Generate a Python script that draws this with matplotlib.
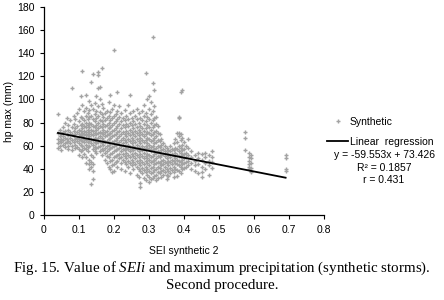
import matplotlib
matplotlib.use('Agg')
import matplotlib.pyplot as plt
from matplotlib.lines import Line2D

plt.rcParams['font.family'] = ['Liberation Sans', 'DejaVu Sans']
plt.rcParams['mathtext.fontset'] = 'custom'
plt.rcParams['mathtext.rm'] = 'Liberation Serif'
plt.rcParams['mathtext.it'] = 'Liberation Serif:italic'

# SEI synthetic 2 values (columns) and hp max (mm)
sei_columns = [0.040, 0.045, 0.050, 0.055, 0.060, 0.065, 0.070, 0.075, 0.080, 0.085,
               0.090, 0.095, 0.100, 0.105, 0.110, 0.115, 0.120, 0.125, 0.130, 0.135,
               0.140, 0.145, 0.150, 0.155, 0.160, 0.165, 0.170, 0.175, 0.180, 0.185,
               0.190, 0.195, 0.200, 0.205, 0.210, 0.215, 0.220, 0.225, 0.230, 0.235,
               0.240, 0.245, 0.250, 0.255, 0.260, 0.265, 0.270, 0.275, 0.280, 0.285,
               0.290, 0.295, 0.300, 0.305, 0.310, 0.315, 0.320, 0.325, 0.330, 0.335,
               0.340, 0.345, 0.350, 0.355, 0.360, 0.365, 0.370, 0.375, 0.380, 0.385,
               0.390, 0.395, 0.400, 0.405, 0.410, 0.420, 0.430, 0.440, 0.450, 0.460,
               0.470, 0.480, 0.573, 0.585, 0.590, 0.690]
hp_columns = [
    [87, 71, 66, 62, 58],
    [74, 68, 64, 60],
    [70, 66, 63, 56],
    [76, 72, 68, 65, 61],
    [80, 73, 67, 62, 59],
    [84, 70, 66, 63],
    [78, 74, 69, 64, 60, 57],
    [82, 72, 67, 62],
    [110, 76, 70, 65, 60, 56],
    [86, 79, 73, 68, 63],
    [83, 75, 70, 66, 61, 58],
    [88, 77, 72, 67, 64, 59],
    [92, 81, 74, 70, 66, 62, 57, 52],
    [103, 85, 78, 73, 69, 65, 61, 55],
    [125, 95, 84, 79, 75, 71, 68, 64, 60, 56, 50],
    [90, 82, 77, 73, 70, 66, 63, 58, 53],
    [104, 93, 86, 80, 76, 72, 69, 65, 61, 57, 50, 45],
    [88, 83, 78, 74, 70, 67, 63, 59, 55],
    [99, 91, 85, 80, 76, 72, 68, 64, 60, 48, 44, 40],
    [115, 95, 86, 79, 74, 70, 66, 62, 52, 46, 42, 27],
    [122, 92, 83, 77, 73, 69, 65, 61, 57, 50, 44, 38, 31],
    [97, 87, 81, 76, 71, 67, 63, 59, 55],
    [103, 90, 84, 78, 74, 70, 66, 62, 58, 54],
    [124, 121, 110, 94, 86, 80, 75, 71, 67, 63, 59],
    [111, 100, 89, 82, 77, 72, 68, 64, 60, 55],
    [127, 96, 87, 81, 76, 71, 67, 62, 57, 52],
    [93, 85, 79, 74, 70, 65, 61, 56],
    [88, 82, 77, 72, 68, 63, 58, 54, 48],
    [90, 84, 78, 73, 69, 64, 60, 55, 51, 45],
    [98, 86, 80, 75, 70, 66, 61, 57, 50, 42],
    [104, 89, 82, 76, 71, 67, 62, 58, 53, 47, 40],
    [92, 84, 78, 73, 68, 63, 59, 54, 48, 43, 37],
    [143, 95, 86, 80, 74, 69, 64, 60, 55, 50, 44, 38],
    [87, 81, 75, 70, 65, 61, 56, 51, 46],
    [106, 90, 83, 77, 72, 67, 62, 57, 52, 47, 42],
    [94, 85, 79, 73, 68, 63, 58, 53, 49],
    [88, 81, 75, 70, 65, 60, 55, 50, 45, 40],
    [84, 78, 72, 67, 62, 57, 53, 48],
    [91, 82, 76, 70, 65, 60, 56, 51, 46, 38],
    [86, 79, 73, 68, 63, 58, 54, 49, 44],
    [95, 83, 77, 71, 66, 61, 57, 52, 47, 42],
    [104, 88, 80, 74, 69, 64, 59, 55, 50, 45, 36],
    [84, 78, 72, 67, 62, 57, 53, 48, 43],
    [90, 81, 75, 70, 65, 60, 56, 51, 46, 40],
    [86, 79, 73, 68, 63, 58, 54, 49, 44],
    [92, 83, 76, 71, 66, 61, 57, 52, 47, 42, 35],
    [88, 80, 74, 69, 64, 59, 55, 50, 45, 40, 33],
    [84, 77, 72, 67, 62, 57, 53, 48, 43, 38, 28, 24],
    [90, 82, 75, 70, 65, 60, 56, 51, 46, 41, 36],
    [95, 86, 79, 73, 68, 63, 58, 54, 49, 44, 39, 32],
    [123, 88, 81, 75, 70, 65, 60, 56, 51, 47, 42, 37, 30],
    [100, 85, 78, 72, 67, 62, 58, 53, 49, 45, 40, 35],
    [103, 92, 83, 76, 71, 66, 61, 57, 52, 48, 43, 38, 33, 29],
    [98, 87, 80, 74, 69, 64, 59, 55, 50, 46, 41, 36, 31],
    [154, 114, 90, 82, 76, 70, 65, 60, 56, 51, 47, 42, 37, 32],
    [108, 94, 84, 78, 72, 67, 62, 57, 53, 48, 44, 39, 34],
    [85, 79, 73, 68, 63, 58, 54, 49, 45, 40, 35, 30],
    [77, 71, 65, 60, 55, 51, 46, 42, 37, 32],
    [70, 64, 59, 54, 50, 45, 41, 36],
    [66, 61, 56, 52, 47, 43, 38, 33],
    [62, 57, 53, 48, 44, 39, 35],
    [60, 55, 51, 46, 42, 37],
    [58, 54, 49, 45, 40, 35, 31],
    [56, 52, 47, 43, 38, 34],
    [60, 55, 50, 46, 41, 36],
    [57, 53, 48, 44, 39],
    [62, 56, 51, 47, 42, 37, 33],
    [66, 58, 54, 49, 45, 40],
    [71, 63, 57, 52, 48, 44, 39, 34],
    [85, 84, 71, 68, 60, 55, 51, 47, 43, 38],
    [106, 70, 65, 58, 54, 50, 46, 42, 36],
    [108, 67, 61, 56, 52, 48, 44, 40],
    [63, 57, 53, 49, 45, 41],
    [60, 54, 50, 46, 42],
    [66, 58, 52, 47, 43],
    [55, 50, 45, 40],
    [52, 47, 43, 38],
    [54, 49, 44, 36],
    [53, 48, 42, 37, 33],
    [54, 50, 45, 40],
    [52, 47, 43, 35],
    [55, 50, 46, 41],
    [72, 67, 56],
    [54, 50, 47, 44, 42, 40],
    [52, 49, 45, 41, 38, 37],
    [52, 49, 40, 38],
]

# regression shown on the chart
slope = -59.553
intercept = 73.426
r2_text = '0.1857'
r_text = '0.431'

sei = []
hp = []
for xv, ys in zip(sei_columns, hp_columns):
    for yv in ys:
        sei.append(xv)
        hp.append(yv)

fig = plt.figure(figsize=(4.44, 3.00), dpi=100)
ax = fig.add_axes([0.099, 0.283, 0.631, 0.694])

pt_color = '#a3a3a3'
ax.plot(sei, hp, linestyle='none', marker='+', markersize=3.0,
        markeredgewidth=1.0, color=pt_color, label='Synthetic')

x0, x1 = min(sei), max(sei)
ax.plot([x0, x1], [slope * x0 + intercept, slope * x1 + intercept],
        color='black', linewidth=1.3, label='Linear  regression')

ax.set_xlim(0, 0.8)
ax.set_ylim(0, 180)
ax.set_xticks([0, 0.1, 0.2, 0.3, 0.4, 0.5, 0.6, 0.7, 0.8])
ax.set_xticklabels(['0', '0.1', '0.2', '0.3', '0.4', '0.5', '0.6', '0.7', '0.8'])
ax.set_yticks(range(0, 181, 20))
ax.tick_params(labelsize=7.5, length=3, width=0.8, direction='out', pad=4)
for side in ['top', 'right']:
    ax.spines[side].set_visible(False)
for side in ['left', 'bottom']:
    ax.spines[side].set_linewidth(0.9)

ax.set_xlabel('SEI synthetic 2', fontsize=7.5, labelpad=8)
ax.set_ylabel('hp max (mm)', fontsize=7.5, labelpad=2)

handles = [Line2D([], [], linestyle='none', marker='+', markersize=3.0,
                  markeredgewidth=1.0, color=pt_color),
           Line2D([], [], color='black', linewidth=1.3)]
fig.legend(handles, ['Synthetic', 'Linear  regression'],
           loc='upper left', bbox_to_anchor=(0.728, 0.625),
           frameon=False, fontsize=7.5, handlelength=2.0,
           handletextpad=0.15, labelspacing=1.0, borderaxespad=0)

fig.text(0.865, 0.483, 'y = %.3fx + %.3f' % (slope, intercept),
         ha='center', va='center', fontsize=7.5)
fig.text(0.865, 0.44, 'R² = ' + r2_text, ha='center', va='center', fontsize=7.5)
fig.text(0.865, 0.40, 'r = ' + r_text, ha='center', va='center', fontsize=7.5)

fig.text(0.5, 0.107, r'Fig. 15. Value of $\mathit{SEIi}$ and maximum precipitation (synthetic storms).',
         ha='center', va='center', fontsize=10.8, family='Liberation Serif')
fig.text(0.5, 0.05, 'Second procedure.', ha='center', va='center',
         fontsize=10.8, family='Liberation Serif')

fig.savefig('out.png', dpi=100)
